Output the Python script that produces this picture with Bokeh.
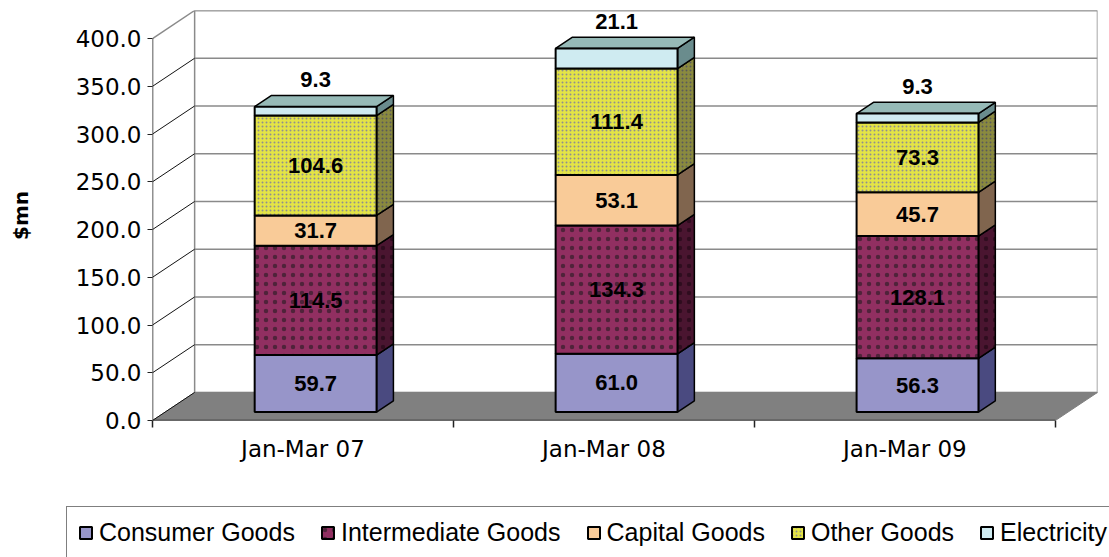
from bokeh.plotting import figure
from bokeh.layouts import column
from bokeh.models import (ColumnDataSource, Range1d, FixedTicker, NumeralTickFormatter,
                          Legend, LegendItem)
from bokeh.core.properties import value
from bokeh.embed import file_html
from bokeh.resources import INLINE

# ---------------- data ----------------
categories = ["Jan-Mar 07", "Jan-Mar 08", "Jan-Mar 09"]
series_names = ["Consumer Goods", "Intermediate Goods", "Capital Goods", "Other Goods", "Electricity"]
consumer_goods = [59.7, 61.0, 56.3]
intermediate_goods = [114.5, 134.3, 128.1]
capital_goods = [31.7, 53.1, 45.7]
other_goods = [104.6, 111.4, 73.3]
electricity = [9.3, 21.1, 9.3]
y_ticks = [0, 50, 100, 150, 200, 250, 300, 350, 400]

series_values = [consumer_goods, intermediate_goods, capital_goods, other_goods, electricity]

# ---------------- styles ----------------
front_colors = ["#9795C9", "#912F61", "#F9CB98", "#E4E445", "#CFEBF1"]
side_colors = ["#4A4A80", "#4A1530", "#80654E", "#8A8A3E", "#6A8C8D"]
top_color = "#96BAB7"
hatch_patterns = [None, ".", None, ".", None]
hatch_colors = [None, "#1a1a1a", None, "#8f8f8f", None]
hatch_scales = [None, 9, None, 4, None]
hatch_alphas = [None, 0.55, None, 1.0, None]
side_hatch_colors = [None, "#1a0510", None, "#5a5a5a", None]

NCAT = len(categories)
DX = 0.14      # depth offset in category units
DY = 29.4      # depth offset in value units
YMAX = y_ticks[-1]
W = 0.405      # bar width (category units)
F0, F1 = 0.3, 0.7  # bar front / back depth fractions

p = figure(width=1109, height=500, x_range=Range1d(0, NCAT + DX), y_range=Range1d(0, YMAX + DY),
           output_backend="svg", toolbar_location=None, frame_align=False,
           min_border_left=152, min_border_right=12, min_border_top=10, min_border_bottom=80)
p.outline_line_color = None
p.xgrid.visible = False
p.ygrid.visible = False
p.background_fill_color = "white"
p.border_fill_color = "white"

# ---------------- walls & floor ----------------
p.quad(left=[DX], right=[NCAT + DX], bottom=[DY], top=[YMAX + DY],
       fill_color="white", line_color="#8a8a8a", line_width=1.5)
p.patch(x=[0, NCAT, NCAT + DX, DX], y=[0, 0, DY, DY],
        fill_color="#808080", line_color="#808080", line_width=1)
grid_src = ColumnDataSource(dict(
    x0=[DX] * (len(y_ticks) - 1), x1=[NCAT + DX] * (len(y_ticks) - 1),
    y=[t + DY for t in y_ticks[1:]]))
p.segment(x0="x0", y0="y", x1="x1", y1="y", source=grid_src, line_color="#8a8a8a", line_width=1.5)
diag_src = ColumnDataSource(dict(
    x0=[0] * (len(y_ticks) - 1), x1=[DX] * (len(y_ticks) - 1),
    y0=y_ticks[:-1], y1=[t + DY for t in y_ticks[:-1]]))
p.segment(x0="x0", y0="y0", x1="x1", y1="y1", source=diag_src, line_color="#111111", line_width=1)
p.segment(x0=[0], y0=[YMAX], x1=[DX], y1=[YMAX + DY], line_color="#8a8a8a", line_width=1.5)
# front value axis and category axis lines
p.segment(x0=[0], y0=[0], x1=[0], y1=[YMAX], line_color="#222222", line_width=1.5)
p.segment(x0=[0], y0=[0], x1=[NCAT], y1=[0], line_color="#222222", line_width=1.5)

# ---------------- bars ----------------
bottoms = [0.0] * NCAT
front_styles = []
label_srcs = []
for i, vals in enumerate(series_values):
    tops = [b + v for b, v in zip(bottoms, vals)]
    l0 = [c + 0.5 - W / 2 + F0 * DX for c in range(NCAT)]
    r0 = [x + W for x in l0]
    r1 = [x + (F1 - F0) * DX for x in r0]
    b0 = [b + F0 * DY for b in bottoms]
    t0 = [t + F0 * DY for t in tops]
    b1 = [b + F1 * DY for b in bottoms]
    t1 = [t + F1 * DY for t in tops]
    src = ColumnDataSource(dict(
        left=l0, right=r0, bottom=b0, top=t0,
        sxs=[[a, b, b, a] for a, b in zip(r0, r1)],
        sys=[[p0, p1, q1, q0] for p0, p1, q0, q1 in zip(b0, b1, t0, t1)],
        cx=[(a + b) / 2 for a, b in zip(l0, r0)],
        cy=[(a + b) / 2 for a, b in zip(b0, t0)],
        ty=t0,
        txt=[f"{v:.1f}" for v in vals]))
    side_kw = dict(fill_color=side_colors[i], line_color="black", line_width=1.5)
    front_kw = dict(fill_color=front_colors[i], line_color="black", line_width=2)
    if hatch_patterns[i]:
        side_kw.update(hatch_pattern=hatch_patterns[i], hatch_color=side_hatch_colors[i],
                       hatch_scale=hatch_scales[i], hatch_alpha=hatch_alphas[i])
        front_kw.update(hatch_pattern=hatch_patterns[i], hatch_color=hatch_colors[i],
                        hatch_scale=hatch_scales[i], hatch_alpha=hatch_alphas[i])
    p.patches(xs="sxs", ys="sys", source=src, **side_kw)
    if i == len(series_values) - 1:
        top_src = ColumnDataSource(dict(
            xs=[[a, b, b + (F1 - F0) * DX, a + (F1 - F0) * DX] for a, b in zip(l0, r0)],
            ys=[[q0, q0, q1, q1] for q0, q1 in zip(t0, t1)]))
        p.patches(xs="xs", ys="ys", source=top_src, fill_color=top_color,
                  line_color="black", line_width=1.5)
    p.quad(left="left", right="right", bottom="bottom", top="top", source=src, **front_kw)
    front_styles.append(front_kw)
    label_srcs.append(src)
    bottoms = tops

for i, src in enumerate(label_srcs):
    if i == len(label_srcs) - 1:
        p.text(x="cx", y="ty", text="txt", source=src, y_offset=-27,
               text_font=value("Liberation Sans"), text_font_style="bold", text_font_size="22px",
               text_align="center", text_baseline="middle", text_color="black")
    else:
        p.text(x="cx", y="cy", text="txt", source=src,
               text_font=value("Liberation Sans"), text_font_style="bold", text_font_size="22px",
               text_align="center", text_baseline="middle", text_color="black")

# ---------------- axes ----------------
ya = p.yaxis[0]
ya.ticker = FixedTicker(ticks=y_ticks)
ya.formatter = NumeralTickFormatter(format="0.0")
ya.axis_line_color = None
ya.major_tick_out = 5
ya.major_tick_in = 0
ya.major_tick_line_color = "#222222"
ya.minor_tick_line_color = None
ya.major_label_text_font = "DejaVu Sans"
ya.major_label_text_font_size = "23px"
ya.major_label_text_color = "black"
ya.major_label_standoff = 6
ya.axis_label = "$mn"
ya.axis_label_text_font = "DejaVu Sans"
ya.axis_label_text_font_style = "bold"
ya.axis_label_text_font_size = "20px"
ya.axis_label_text_color = "black"
ya.axis_label_standoff = 40

xa = p.xaxis[0]
centers = [c + 0.5 for c in range(NCAT)]
xa.ticker = FixedTicker(ticks=centers, minor_ticks=list(range(NCAT + 1)))
xa.major_label_overrides = {c: lab for c, lab in zip(centers, categories)}
xa.axis_line_color = None
xa.major_tick_line_color = None
xa.minor_tick_out = 7
xa.minor_tick_in = 0
xa.minor_tick_line_color = "#222222"
xa.minor_tick_line_width = 1.5
xa.major_label_text_font = "DejaVu Sans"
xa.major_label_text_font_size = "23px"
xa.major_label_text_color = "black"
xa.major_label_standoff = 8

# ---------------- legend (own strip below the chart) ----------------
lg = figure(width=1109, height=57, x_range=Range1d(0, 1), y_range=Range1d(0, 1),
            x_axis_type=None, y_axis_type=None, frame_align=False,
            output_backend="svg", toolbar_location=None,
            min_border_left=0, min_border_right=0, min_border_top=0, min_border_bottom=0)
lg.xgrid.visible = False
lg.ygrid.visible = False
lg.outline_line_color = None
lg.border_fill_color = "white"
# legend swatch renderers, placed outside the visible range
legend_renderers = [lg.quad(left=[5], right=[6], bottom=[5], top=[6], **kw) for kw in front_styles]
legend = Legend(items=[LegendItem(label=n, renderers=[r]) for n, r in zip(series_names, legend_renderers)],
                orientation="horizontal", location=(66, -2), margin=0,
                glyph_width=15, glyph_height=15, label_standoff=6, spacing=25, padding=11,
                label_text_font="Liberation Sans", label_text_font_size="25px",
                label_text_color="black", border_line_color="black", border_line_width=1,
                background_fill_color="white", background_fill_alpha=1)
lg.add_layout(legend, "center")

open("out.html", "w").write(file_html(column(p, lg, spacing=0), INLINE))
